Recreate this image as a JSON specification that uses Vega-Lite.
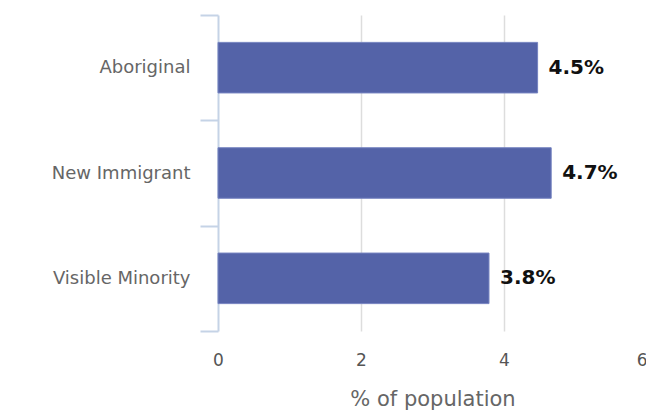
{
  "$schema": "https://vega.github.io/schema/vega-lite/v6.json",
  "width": 429,
  "height": 316,
  "autosize": "none",
  "padding": {"left": 218, "top": 15, "right": 0, "bottom": 81},
  "config": {"view": {"stroke": null}, "font": "DejaVu Sans"},
  "data": {
    "values": [
      {"group": "Aboriginal", "pct": 4.47, "label": "4.5%"},
      {"group": "New Immigrant", "pct": 4.66, "label": "4.7%"},
      {"group": "Visible Minority", "pct": 3.79, "label": "3.8%"}
    ]
  },
  "encoding": {
    "y": {
      "field": "group",
      "type": "nominal",
      "sort": null,
      "scale": {"paddingInner": 0, "paddingOuter": 0},
      "axis": {
        "title": null,
        "domainColor": "#c5d3e6",
        "domainWidth": 2,
        "tickColor": "#c5d3e6",
        "tickWidth": 2,
        "tickSize": 18,
        "tickBand": "extent",
        "labelPadding": 10,
        "labelFontSize": 18,
        "labelColor": "#666666",
        "grid": false
      }
    },
    "x": {
      "field": "pct",
      "type": "quantitative",
      "scale": {"domain": [0, 6], "nice": false},
      "axis": {
        "values": [0, 2, 4, 6],
        "ticks": false,
        "domain": false,
        "labelFontSize": 17,
        "labelColor": "#555555",
        "labelPadding": 21,
        "labelFlush": false,
        "labelAlign": {"condition": {"test": "datum.value === 6", "value": "right"}, "value": "center"},
        "gridColor": "#dddddd",
        "gridWidth": 1.5,
        "gridOpacity": {"condition": {"test": "datum.value === 6 || datum.value === 0", "value": 0}, "value": 1},
        "title": "% of population",
        "titleFontSize": 21,
        "titleFontWeight": "normal",
        "titleColor": "#666666",
        "titlePadding": 20
      }
    }
  },
  "layer": [
    {"mark": {"type": "bar", "color": "#5463a8", "stroke": "#7583c0", "strokeWidth": 1, "height": {"band": 0.48}}},
    {
      "mark": {"type": "text", "align": "left", "baseline": "middle", "dx": 11, "fontWeight": "bold", "fontSize": 20, "color": "#111111"},
      "encoding": {"text": {"field": "label"}}
    }
  ]
}
